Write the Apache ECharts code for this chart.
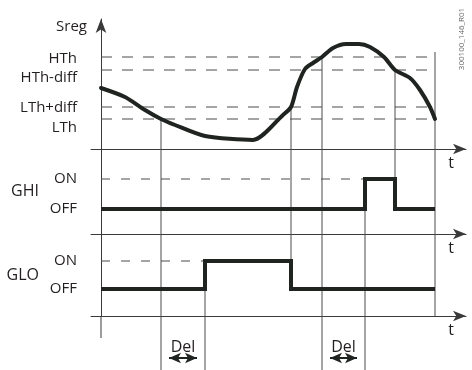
<!DOCTYPE html>
<html>
<head>
<meta charset="utf-8">
<script src="https://cdn.jsdelivr.net/npm/echarts@6/dist/echarts.min.js"></script>
<style>
  html, body { margin: 0; padding: 0; background: #fff; }
  #chart { width: 472px; height: 370px; }
</style>
</head>
<body>
<div id="chart"></div>
<script>
// Sreg curve (time, value)
const sregTime = [0, 24, 44, 60, 74, 104, 152, 182, 190, 196, 204, 212, 221, 232, 245, 258, 269, 283, 294, 309, 319, 329, 334];
const sregValue = [61, 52, 39, 30, 24, 13, 9, 34, 42, 62, 80, 86, 92, 101, 105, 105, 102, 92, 79, 71, 59, 42, 30];

// threshold levels on the Sreg axis
const levelNames = ["HTh", "HTh-diff", "LTh+diff", "LTh"];
const levelValues = [92, 79, 42, 30];
const levelEnd = 332;

// relay outputs, 0 = OFF, 1 = ON
const stateNames = ["OFF", "ON"];
const ghiTime = [0, 264, 294, 334];
const ghiState = [0, 1, 0, 0];
const gloTime = [0, 104, 190, 334];
const gloState = [0, 1, 0, 0];

// delay spans
const delStart = [60, 221];
const delEnd = [104, 264];

// thin guide lines: time, [panel, value] where they start and stop (null = panel edge)
const guideTime = [60, 104, 190, 221, 264, 294, 334];
const guideFrom = [[0, 30], [2, 1], [0, 42], [0, 92], [1, 1], [0, 79], [0, 97]];
const guideTo = [[3, null], [3, null], [2, 0], [3, null], [3, null], [1, 0], [2, null]];

// value at top / bottom edge of each panel
const panelTop = [130, 2, 55 / 28, 0];
const panelBottom = [0, -5 / 6, -27 / 28, 54];
const axisTail = 22;
const delDepth = 42;

const INK = "#231f20";
const THICK = "#1f2421";
const THIN = "#4a4a4a";
const AXIS = "#3a3a3a";
const FONT = "Open Sans";
const FS = 15;

const chart = echarts.init(document.getElementById("chart"));

const grids = [
  { left: 91, right: 6, top: 19, height: 130 },
  { left: 91, right: 6, top: 149, height: 85 },
  { left: 91, right: 6, top: 234, height: 82 },
  { left: 91, right: 6, top: 316, height: 54 }
];

const xAxes = grids.map((g, i) => ({
  type: "value",
  gridIndex: i,
  min: -10,
  max: 365,
  show: i < 3,
  name: i < 3 ? "t" : "",
  nameLocation: "end",
  nameGap: -15,
  nameTextStyle: {
    fontFamily: FONT, fontSize: FS + 1, color: INK,
    align: "center", verticalAlign: "top", padding: [6, 0, 0, 0]
  },
  axisLine: {
    show: true,
    onZero: false,
    symbol: ["none", "arrow"],
    symbolSize: [8, 13],
    lineStyle: { color: AXIS, width: 1 }
  },
  axisTick: { show: false },
  axisLabel: { show: false },
  splitLine: { show: false }
}));

// level names are pushed a little apart from their lines, as in the drawing
const labelShift = [
  { padding: [4, 0, 0, 0] },
  { padding: [16, 0, 0, 0] },
  { padding: [2, 0, 0, 0] },
  { padding: [18, 0, 0, 0] }
];
const rich = {};
labelShift.forEach((s, i) => {
  rich["l" + i] = Object.assign({ fontFamily: FONT, fontSize: FS, color: INK }, s);
});

const yAxes = grids.map((g, i) => {
  const ax = {
    type: "value",
    gridIndex: i,
    min: Math.min(panelTop[i], panelBottom[i]),
    max: Math.max(panelTop[i], panelBottom[i]),
    inverse: panelTop[i] < panelBottom[i],
    show: i < 3,
    axisLine: {
      show: true,
      onZero: true,
      symbol: i === 0 ? ["none", "arrow"] : "none",
      symbolSize: [8, 14],
      lineStyle: { color: AXIS, width: 1 }
    },
    axisTick: { show: false },
    splitLine: { show: false },
    axisLabel: {
      show: true,
      margin: 14,
      fontFamily: FONT, fontSize: FS, color: INK,
      customValues: [0, 1],
      formatter: v => stateNames[v]
    }
  };
  if (i === 0) {
    ax.name = "Sreg";
    ax.nameLocation = "end";
    ax.nameGap = -8;
    ax.nameTextStyle = {
      fontFamily: FONT, fontSize: FS, color: INK,
      align: "right", verticalAlign: "middle", padding: [0, 14, 0, 0]
    };
    ax.axisLabel.customValues = levelValues;
    ax.axisLabel.formatter = v => {
      const k = levelValues.indexOf(v);
      return "{l" + k + "|" + levelNames[k] + "}";
    };
    ax.axisLabel.rich = rich;
  } else if (i < 3) {
    ax.name = i === 1 ? "GHI" : "GLO";
    ax.nameLocation = "middle";
    ax.nameRotate = 0;
    ax.nameGap = 52;
    ax.nameTextStyle = {
      fontFamily: FONT, fontSize: FS + 1, color: INK,
      padding: [i === 1 ? 6 : 8, 0, 0, 0]
    };
  }
  return ax;
});

const series = [];

// dashed threshold lines
levelValues.forEach(v => {
  series.push({
    type: "line", xAxisIndex: 0, yAxisIndex: 0, silent: true, symbol: "none", z: 2,
    lineStyle: { color: THIN, width: 1, type: [11, 10] },
    data: [[0, v], [levelEnd, v]]
  });
});

// dashed ON reference lines
[[1, ghiTime, ghiState], [2, gloTime, gloState]].forEach(([p, tArr, sArr]) => {
  series.push({
    type: "line", xAxisIndex: p, yAxisIndex: p, silent: true, symbol: "none", z: 2,
    lineStyle: { color: THIN, width: 1, type: [9, 11] },
    data: [[0, 1], [tArr[sArr.indexOf(1)], 1]]
  });
});

// thin vertical guides, split over the panels they cross
guideTime.forEach((t, k) => {
  const from = guideFrom[k], to = guideTo[k];
  for (let p = from[0]; p <= to[0]; p++) {
    const top = p === from[0] && from[1] !== null ? from[1] : panelTop[p];
    const bot = p === to[0] && to[1] !== null ? to[1] : panelBottom[p];
    series.push({
      type: "line", xAxisIndex: p, yAxisIndex: p, silent: true, symbol: "none", z: 3,
      lineStyle: { color: THIN, width: 1 },
      data: [[t, top], [t, bot]]
    });
  }
});

// Sreg curve
series.push({
  type: "line", xAxisIndex: 0, yAxisIndex: 0, silent: true, symbol: "none", z: 5,
  smooth: 0.25,
  lineStyle: { color: THICK, width: 4, cap: "round" },
  data: sregTime.map((t, i) => [t, sregValue[i]])
});

// relay outputs
[[1, ghiTime, ghiState], [2, gloTime, gloState]].forEach(([p, tArr, sArr]) => {
  series.push({
    type: "line", xAxisIndex: p, yAxisIndex: p, silent: true, symbol: "none", z: 5,
    step: "end",
    lineStyle: { color: THICK, width: 4, join: "miter", cap: "butt" },
    data: tArr.map((t, i) => [t, sArr[i]])
  });
});

// tail of the vertical axis and the delay arrows (arrow heads sit just inside the guides)
const arrowInset = 8;
series.push({
  type: "line", xAxisIndex: 3, yAxisIndex: 3, silent: true, symbol: "none", z: 4,
  lineStyle: { color: AXIS, width: 1 },
  data: [[0, 0], [0, axisTail]],
  markLine: {
    silent: true,
    animation: false,
    symbol: ["arrow", "arrow"],
    symbolSize: [8, 12],
    lineStyle: { color: THICK, width: 2, type: "solid" },
    label: {
      show: true, position: "middle", formatter: "Del", distance: 3,
      fontFamily: FONT, fontSize: FS + 1, color: INK
    },
    data: delStart.map((s, i) => [
      { coord: [s + arrowInset, delDepth] },
      { coord: [delEnd[i] - arrowInset, delDepth] }
    ])
  }
});

chart.setOption({
  animation: false,
  backgroundColor: "#fff",
  grid: grids,
  xAxis: xAxes,
  yAxis: yAxes,
  series: series,
  graphic: [{
    type: "text",
    x: 462, y: 39,
    rotation: Math.PI / 2,
    style: {
      text: "300100_146_R01",
      fontFamily: FONT, fontSize: 8, fill: "#666",
      align: "center", verticalAlign: "middle"
    }
  }]
});
</script>
</body>
</html>
